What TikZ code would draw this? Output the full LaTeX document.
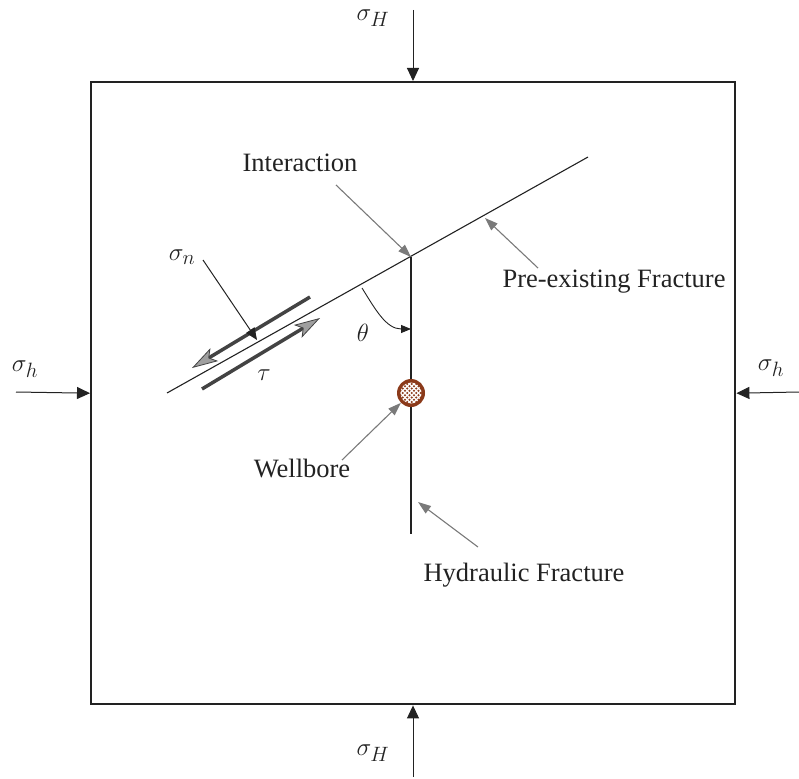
\documentclass[tikz,border=0pt]{standalone}
\usepackage{fontspec}
\setmainfont{Liberation Serif}
\usetikzlibrary{arrows.meta,calc}
\definecolor{ink}{HTML}{222222}
\definecolor{callgray}{HTML}{7A7A7A}
\definecolor{wellbrown}{HTML}{8B3A1A}
\begin{document}
\begin{tikzpicture}[x=1pt,y=-1pt,
  lbl/.style={font=\fontsize{26.5}{30}\selectfont, text=ink, inner sep=0pt},
  mlbl/.style={font=\fontsize{30}{34}\selectfont, text=ink, inner sep=0pt},
  stress/.style={draw=ink, line width=1pt, -{Triangle[length=13pt,width=12pt]}},
  callout/.style={draw=callgray, line width=1.1pt, -{Triangle[length=13pt,width=9pt,fill=callgray]}},
  shearbar/.style={draw=ink!85, line width=3.5pt, -{Stealth[length=26pt,width=15pt,inset=6pt,fill=gray!75,line width=0.8pt]}},
  fracline/.style={draw=ink, line width=1.1pt}]
\useasboundingbox (0,0) rectangle (799,778);

% block
\node[draw=ink, line width=2.4pt, minimum width=644pt, minimum height=622pt,
      inner sep=0pt, anchor=north west] (box) at (90,81) {};

% far-field stresses
\coordinate (sT) at (413,10);
\coordinate (sB) at (413,777);
\coordinate (sL) at (16,392);
\coordinate (sR) at (799,392);
\draw[stress] (sT) -- (sT |- box.north);
\draw[stress] (sB) -- (sB |- box.south);
\draw[stress] (sL) -- (box.west);
\draw[stress] (sR) -- (box.east);
\node[mlbl] (lT) at (373,18) {$\sigma_H$};
\node[mlbl] (lB) at (373,753) {$\sigma_H$};
\node[mlbl] (lL) at (25,369) {$\sigma_h$};
\node[mlbl] (lR) at (771,368) {$\sigma_h$};

% fractures
\coordinate (pf1) at (167,393);
\coordinate (pf2) at (588,157);
\coordinate (ix) at (411,257);
\coordinate (hf) at (411,534);
\draw[fracline] (pf1) -- (pf2);
\draw[fracline, line width=1.4pt] (ix) -- (hf);

% wellbore
\node[circle, fill=wellbrown, minimum size=28pt, inner sep=0pt] (wb) at (411,393) {};
\begin{scope}
  \clip (wb.center) circle (10.5);
  \foreach \k in {-24,-19.5,...,24} {
    \draw[white, line width=1.1pt] ($(wb.center)+(\k,0)+(-15,-15)$) -- ++(30,30);
    \draw[white, line width=1.1pt] ($(wb.center)+(\k,0)+(-15,15)$) -- ++(30,-30);
  }
\end{scope}

% angle
\coordinate (a1) at (362,288);
\coordinate (a2) at (411,329);
\draw[draw=ink, line width=0.9pt, -{Triangle[length=10pt,width=8pt]}] (a1) to[out=302,in=180] (a2);
\node[mlbl] (th) at (363,333) {$\theta$};

% shear and normal stresses on the fracture
\coordinate (u1) at (310,297);
\coordinate (u2) at (192,368);
\coordinate (d1) at (202,389);
\coordinate (d2) at (320,318);
\draw[shearbar] (u1) -- (u2);
\draw[shearbar] (d1) -- (d2);
\coordinate (sn0) at (203,260);
\coordinate (sn1) at (257,340);
\draw[draw=ink, line width=1pt, -{Triangle[length=12pt,width=10pt]}] (sn0) -- (sn1);
\node[mlbl] (lsn) at (182,257) {$\sigma_n$};
\node[mlbl] (ltau) at (264,375) {$\tau$};

% callouts
\node[lbl] (tInt) at (300,163) {Interaction};
\node[lbl] (tPre) at (614,282) {Pre-existing Fracture};
\node[lbl] (tWell) at (302,469) {Wellbore};
\node[lbl] (tHyd) at (524,575) {Hydraulic Fracture};
\coordinate (cInt) at (336,185);
\coordinate (cPre) at (538,268);
\coordinate (pPre) at (485,218);
\coordinate (cWell) at (342,460);
\coordinate (cHyd) at (478,547);
\coordinate (pHyd) at (418,502);
\draw[callout] (cInt) -- (ix);
\draw[callout] (cPre) -- (pPre);
\draw[callout] (cWell) -- (wb);
\draw[callout] (cHyd) -- (pHyd);
\end{tikzpicture}
\end{document}
